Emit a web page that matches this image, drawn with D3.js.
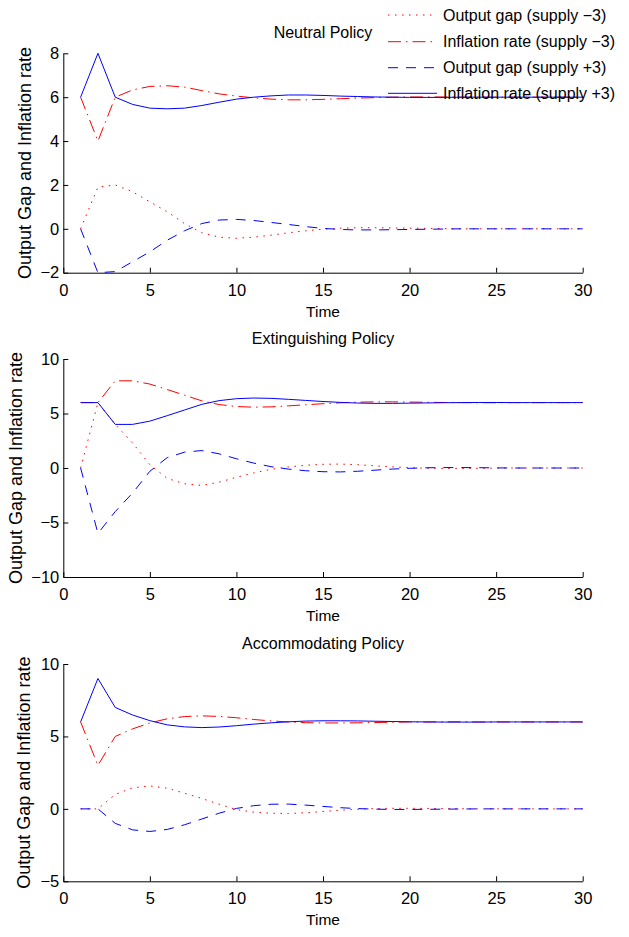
<!DOCTYPE html>
<html><head><meta charset="utf-8">
<script src="https://cdn.jsdelivr.net/npm/d3@7/dist/d3.min.js"></script>
<style>
body{margin:0;background:#fff;}
svg{display:block;font-family:"Liberation Sans",Arial,Helvetica,sans-serif;}
</style>
</head><body>
<svg id="chart" width="629" height="937"></svg>
<script>
// ---------- data ----------
const time = d3.range(1, 31);
const xTicks = [0, 5, 10, 15, 20, 25, 30];
const xDomain = [0, 30];
const titles = ["Neutral Policy", "Extinguishing Policy", "Accommodating Policy"];
const yDomains = [[-2, 8], [-10, 10], [-5, 10]];
const yTicksNeutral = [-2, 0, 2, 4, 6, 8];
const yTicksExting = [-10, -5, 0, 5, 10];
const yTicksAccom = [-5, 0, 5, 10];
const xLabel = "Time";
const yLabel = "Output Gap and Inflation rate";
const legendLabels = ["Output gap (supply \u22123)", "Inflation rate (supply \u22123)",
                      "Output gap (supply +3)", "Inflation rate (supply +3)"];

// Neutral policy
const neutralGapNeg = [0, 1.9, 2.0, 1.69, 1.23, 0.78, 0.24, -0.18, -0.38, -0.43, -0.38, -0.29, -0.18, -0.09, -0.02, 0.03, 0.05, 0.05, 0.04, 0.03, 0.02, 0.01, 0, 0, 0, 0, 0, 0, 0, 0];
const neutralInfNeg = [6, 4, 6, 6.33, 6.49, 6.52, 6.46, 6.3, 6.15, 6.05, 5.97, 5.91, 5.88, 5.88, 5.9, 5.93, 5.96, 5.98, 6.0, 6.01, 6.01, 6.01, 6, 6, 6, 6, 6, 6, 6, 6];
const neutralGapPos = [0, -2.0, -1.95, -1.5, -1.05, -0.52, -0.09, 0.24, 0.4, 0.43, 0.38, 0.29, 0.2, 0.1, 0.02, -0.03, -0.05, -0.05, -0.04, -0.03, -0.02, -0.01, 0, 0, 0, 0, 0, 0, 0, 0];
const neutralInfPos = [6, 8, 6, 5.67, 5.5, 5.47, 5.5, 5.62, 5.77, 5.91, 6.0, 6.06, 6.1, 6.1, 6.08, 6.05, 6.03, 6.01, 6.0, 5.99, 5.99, 5.99, 6, 6, 6, 6, 6, 6, 6, 6];

// Extinguishing policy
const extingGapNeg = [0, 6, 4, 2.3, 0.3, -0.95, -1.45, -1.6, -1.3, -0.85, -0.45, -0.12, 0.1, 0.25, 0.34, 0.36, 0.3, 0.2, 0.1, 0.03, -0.02, -0.04, -0.04, -0.03, -0.01, 0, 0, 0, 0, 0];
const extingInfNeg = [6, 6, 8, 8, 7.7, 7.2, 6.68, 6.16, 5.82, 5.64, 5.58, 5.61, 5.7, 5.8, 5.9, 5.98, 6.04, 6.07, 6.07, 6.05, 6.03, 6.01, 6.0, 5.99, 5.99, 6, 6, 6, 6, 6];
const extingGapPos = [0, -6, -4, -2.3, -0.3, 0.95, 1.45, 1.6, 1.3, 0.85, 0.45, 0.12, -0.1, -0.25, -0.34, -0.36, -0.3, -0.2, -0.1, -0.03, 0.02, 0.04, 0.04, 0.03, 0.01, 0, 0, 0, 0, 0];
const extingInfPos = [6, 6, 4, 4, 4.3, 4.8, 5.32, 5.84, 6.18, 6.36, 6.42, 6.39, 6.3, 6.2, 6.1, 6.02, 5.96, 5.93, 5.93, 5.95, 5.97, 5.99, 6.0, 6.01, 6.01, 6, 6, 6, 6, 6];

// Accommodating policy
const accomGapNeg = [0, 0, 1, 1.45, 1.58, 1.43, 1.08, 0.72, 0.32, -0.05, -0.23, -0.3, -0.32, -0.27, -0.18, -0.09, -0.03, 0.02, 0.04, 0.04, 0.03, 0.02, 0.01, 0, 0, 0, 0, 0, 0, 0];
const accomInfNeg = [6, 3, 5, 5.52, 5.93, 6.22, 6.37, 6.42, 6.38, 6.29, 6.17, 6.07, 6.0, 5.95, 5.93, 5.93, 5.94, 5.96, 5.98, 6.0, 6.0, 6.01, 6.01, 6, 6, 6, 6, 6, 6, 6];
const accomGapPos = [0, 0, -1, -1.45, -1.56, -1.42, -1.1, -0.7, -0.3, 0.03, 0.22, 0.32, 0.33, 0.26, 0.17, 0.08, 0.02, -0.02, -0.04, -0.04, -0.03, -0.02, -0.01, 0, 0, 0, 0, 0, 0, 0];
const accomInfPos = [6, 9, 7, 6.48, 6.09, 5.8, 5.66, 5.61, 5.65, 5.74, 5.85, 5.94, 6.01, 6.06, 6.08, 6.08, 6.07, 6.05, 6.03, 6.01, 6.0, 5.99, 5.99, 5.99, 6, 6, 6, 6, 6, 6];

// ---------- layout & styles ----------
const panelSeries = [
  [neutralGapNeg, neutralInfNeg, neutralGapPos, neutralInfPos],
  [extingGapNeg, extingInfNeg, extingGapPos, extingInfPos],
  [accomGapNeg, accomInfNeg, accomGapPos, accomInfPos]
];
const panelYTicks = [yTicksNeutral, yTicksExting, yTicksAccom];
const styles = [
  {color: "#ff0000", dash: "1.5,5.5"},
  {color: "#ff0000", dash: "13,5,1.5,5"},
  {color: "#0000ff", dash: "10,8"},
  {color: "#0000ff", dash: null}
];
const plotLeft = 63.3, plotRight = 582.7;
const panels = [
  {top: 53.3, bottom: 272.7, ylabX: 31},
  {top: 359, bottom: 577, ylabX: 21.7},
  {top: 664, bottom: 881.3, ylabX: 30}
];
const tickFont = 16.5;

const svg = d3.select("#chart");
const x = d3.scaleLinear().domain(xDomain).range([plotLeft, plotRight]);

panels.forEach((p, i) => {
  const y = d3.scaleLinear().domain(yDomains[i]).range([p.bottom, p.top]);
  const g = svg.append("g");

  // axes
  const xAxis = d3.axisBottom(x).tickValues(xTicks).tickFormat(d3.format("d"))
    .tickSizeInner(-5).tickSizeOuter(0).tickPadding(23 - 0.71 * tickFont);
  const gx = g.append("g").attr("transform", `translate(0,${p.bottom})`).call(xAxis);
  const yAxis = d3.axisLeft(y).tickValues(panelYTicks[i]).tickFormat(d3.format("d"))
    .tickSizeInner(-5).tickSizeOuter(0).tickPadding(4);
  const gy = g.append("g").attr("transform", `translate(${plotLeft},0)`).call(yAxis);
  [gx, gy].forEach(a => {
    a.attr("font-family", null).attr("font-size", null);
    a.selectAll("text").style("font-size", tickFont + "px").attr("fill", "#000");
    a.select(".domain").attr("stroke", "#000").attr("stroke-width", 1);
    a.selectAll(".tick line").attr("stroke", "#000").attr("stroke-width", 1);
  });

  // lines
  const line = d3.line().x((d, k) => x(time[k])).y(d => y(d));
  panelSeries[i].forEach((vals, s) => {
    g.append("path").datum(vals)
      .attr("d", line)
      .attr("fill", "none")
      .attr("stroke", styles[s].color)
      .attr("stroke-width", 1)
      .attr("stroke-dasharray", styles[s].dash);
  });

  // title
  g.append("text").attr("x", (plotLeft + plotRight) / 2).attr("y", p.top - 15)
    .attr("text-anchor", "middle").style("font-size", "16px").text(titles[i]);
  // x label
  g.append("text").attr("x", (plotLeft + plotRight) / 2).attr("y", p.bottom + 44)
    .attr("text-anchor", "middle").style("font-size", "15.5px").text(xLabel);
  // y label
  g.append("text")
    .attr("transform", `translate(${p.ylabX},${(p.top + p.bottom) / 2}) rotate(-90)`)
    .attr("text-anchor", "middle").style("font-size", "18px").text(yLabel);
});

// legend (top panel)
const legRows = [15, 41.7, 67.7, 93.3];
const leg = svg.append("g");
legendLabels.forEach((lab, s) => {
  leg.append("line").attr("x1", 388).attr("x2", 437)
    .attr("y1", legRows[s]).attr("y2", legRows[s])
    .attr("stroke", styles[s].color).attr("stroke-width", 1)
    .attr("stroke-dasharray", styles[s].dash);
  leg.append("text").attr("x", 443).attr("y", legRows[s] + 5.7)
    .style("font-size", "16px").text(lab);
});
</script>
</body></html>
